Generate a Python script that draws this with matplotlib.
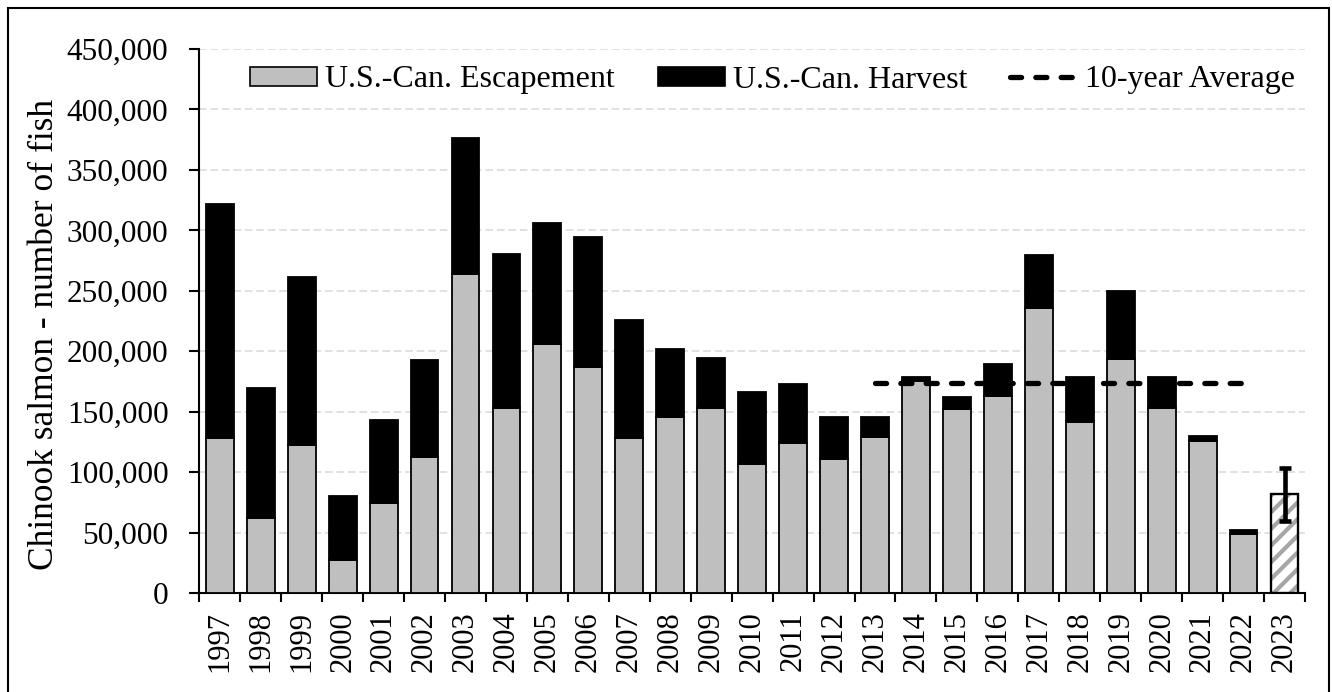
import matplotlib
matplotlib.use("Agg")
import matplotlib.pyplot as plt
from matplotlib.patches import Patch, Rectangle
from matplotlib.lines import Line2D
from matplotlib.ticker import FuncFormatter, FixedLocator
import numpy as np

# ---- data ----
years = [str(y) for y in range(1997, 2024)]
escapement = [128300, 61800, 122200, 27300, 74700, 112800, 264000, 152900, 206100,
              187300, 128000, 145900, 153400, 106500, 124200, 110600, 129100, 175500,
              152000, 163100, 235600, 141800, 193400, 153100, 126000, 48600]
harvest = [193700, 107600, 139300, 52700, 68500, 80300, 112300, 127400, 99600,
           107100, 98000, 56100, 41400, 59600, 48500, 34800, 16600, 3500,
           10500, 26700, 43600, 36700, 56800, 25900, 4000, 3500]
proj_year = ["2023"]
proj_value = [82200]
proj_low = [59800]
proj_high = [103200]
avg_years = ["2013", "2022"]
avg_value = [174100, 174100]

plt.rcParams['font.family'] = ['Liberation Serif', 'DejaVu Serif']
plt.rcParams['hatch.linewidth'] = 3.0

W, H = 1332, 692
fig = plt.figure(figsize=(W / 100, H / 100), dpi=100)
ax = fig.add_axes([199.3 / W, 1 - 593 / H, (1305 - 199.3) / W, (593 - 49) / H])

x = np.arange(len(years))
idx = {y: i for i, y in enumerate(years)}
xe = x[:len(escapement)]
bw = 0.68
edge_lw = 1.3

ax.bar(xe, escapement, width=bw, color='#bfbfbf', edgecolor='black', linewidth=edge_lw, zorder=3)
ax.bar(xe, harvest, width=bw, bottom=escapement, color='black', edgecolor='black',
       linewidth=edge_lw, zorder=3)

# projected 2023 bar (hatched) with error bar
px = [idx[y] for y in proj_year]
ax.bar(px, proj_value, width=bw, color='white', edgecolor='#a6a6a6', hatch='//',
       linewidth=0, zorder=3)
ax.bar(px, proj_value, width=bw, fill=False, edgecolor='black', linewidth=edge_lw * 1.3, zorder=4)
yerr = [[v - lo for v, lo in zip(proj_value, proj_low)],
        [hi - v for v, hi in zip(proj_value, proj_high)]]
ax.errorbar(px, proj_value, yerr=yerr, fmt='none', ecolor='black', elinewidth=3.3,
            capsize=4.2, capthick=3.3, zorder=5)

# 10-year average line
ax_x = [idx[y] for y in avg_years]
ax.plot(ax_x, avg_value, color='black', linewidth=3.8, dashes=(2.1, 2.7),
        dash_capstyle='round', zorder=6)

# axes styling
ax.set_xlim(-0.5, len(years) - 0.5)
ax.set_ylim(0, 450000)
ax.set_yticks(np.arange(0, 450001, 50000))
ax.yaxis.set_major_formatter(FuncFormatter(lambda v, p: f"{int(v):,}"))
ax.set_xticks(x)
ax.set_xticklabels(years, rotation=90, fontsize=22)
ax.xaxis.set_minor_locator(FixedLocator(np.arange(-0.5, len(years), 1.0)))
ax.tick_params(axis='x', which='major', length=0, pad=13)
ax.tick_params(axis='x', which='minor', length=6.5, width=1.5, direction='out')
ax.tick_params(axis='y', which='major', length=7.2, width=1.5, direction='out',
               labelsize=22.5, pad=15)
for s in ['top', 'right']:
    ax.spines[s].set_visible(False)
for s in ['left', 'bottom']:
    ax.spines[s].set_linewidth(1.5)
ax.grid(axis='y', color='#d9d9d9', linestyle=(0, (5, 2.5)), linewidth=1.1, zorder=0)
ax.set_axisbelow(True)

ax.set_ylabel('Chinook salmon - number of fish', fontsize=25.5, va='center')
ax.yaxis.set_label_coords((45 - 199.3) / (1305 - 199.3), (593 - 334) / (593 - 49))

# legend
handles = [Patch(facecolor='#bfbfbf', edgecolor='black', linewidth=1.2),
           Patch(facecolor='black', edgecolor='black', linewidth=1.2),
           Line2D([0], [0], color='black', linewidth=3.8, dashes=(2.1, 2.7),
                  dash_capstyle='round')]
labels = ['U.S.-Can. Escapement', 'U.S.-Can. Harvest', '10-year Average']
fig.legend(handles, labels, loc='center', bbox_to_anchor=(772.5 / W, 1 - 80 / H),
           ncol=3, frameon=False, fontsize=23, handlelength=2.1, handleheight=0.53,
           handletextpad=0.25, columnspacing=1.35)

# figure border
fig.patches.append(Rectangle((8 / W, -0.02), (1329 - 8) / W, 1.02 - 8 / H,
                             transform=fig.transFigure, fill=False,
                             edgecolor='black', linewidth=1.5, zorder=10))

fig.savefig('out.png', dpi=100)
